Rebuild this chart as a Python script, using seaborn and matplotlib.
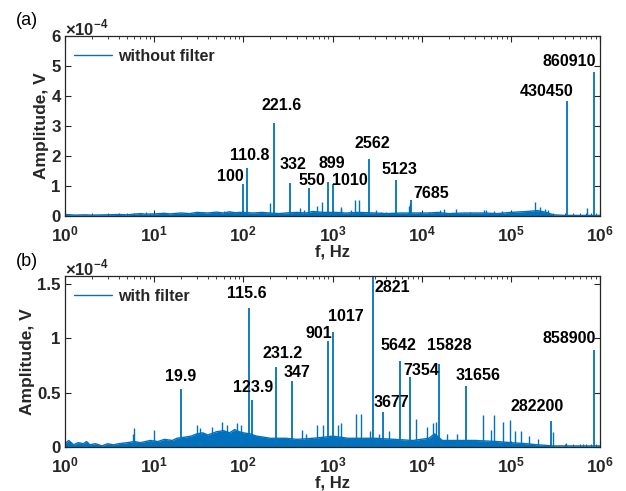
import numpy as np
import pandas as pd
import matplotlib
matplotlib.use("Agg")
import matplotlib.pyplot as plt
import matplotlib.ticker as mticker
import seaborn as sns

# ---------------- data (amplitudes in units of 1e-4 V) ----------------
# panel (a): without filter
a_peak_f = [100, 110.8, 221.6, 332, 550, 899, 1010, 2562, 5123, 7685, 430450, 860910]
a_peak_amp = [1.06, 1.61, 3.09, 1.09, 0.94, 1.14, 1.07, 1.90, 1.20, 0.55, 3.83, 4.81]
a_peak_lbl = ["100", "110.8", "221.6", "332", "550", "899", "1010", "2562", "5123", "7685", "430450", "860910"]
a_lbl_x = [71.4, 118.8, 269, 357, 584, 978, 1571, 2810, 5570, 12950, 250000, 447000]
a_lbl_y = [1.31, 2.0, 3.7, 1.72, 1.18, 1.76, 1.18, 2.42, 1.56, 0.76, 4.14, 5.14]

a_floor_f = [1, 1.3, 1.7, 2, 3, 4, 5, 7, 8, 10, 13, 15, 20, 25, 30, 40, 50, 60, 70, 80, 95,
             130, 160, 250, 300, 400, 500, 600, 800, 1100, 1400, 2000, 3000, 4000, 6000, 9000,
             12000, 15000, 20000, 30000, 50000, 70000, 100000, 150000, 200000, 250000, 300000,
             400000, 500000, 700000, 1000000]
a_floor_amp = [0.05, 0.03, 0.04, 0.03, 0.04, 0.05, 0.04, 0.08, 0.06, 0.07, 0.09, 0.07, 0.10, 0.08,
               0.12, 0.10, 0.13, 0.10, 0.14, 0.11, 0.12, 0.10, 0.12, 0.08, 0.10, 0.12, 0.10, 0.15,
               0.12, 0.12, 0.10, 0.12, 0.10, 0.08, 0.10, 0.10, 0.10, 0.12, 0.08, 0.10, 0.10, 0.08,
               0.12, 0.15, 0.18, 0.12, 0.04, 0.02, 0.02, 0.02, 0.02]
a_spur_f = [8, 35, 45, 60, 200, 435, 480, 665, 760, 1235, 1260, 1600, 1775, 1995, 3090, 3500,
            4000, 7200, 7400, 9500, 12000, 16000, 18000, 24000, 35000, 50000, 53000, 65000,
            80000, 186000, 213000, 240000, 262000, 500000, 600000, 710000]
a_spur_amp = [0.12, 0.15, 0.15, 0.16, 0.45, 0.27, 0.20, 0.33, 0.47, 0.31, 0.25, 0.20, 0.53, 0.53,
              0.20, 0.15, 0.12, 0.35, 0.45, 0.12, 0.15, 0.20, 0.25, 0.22, 0.15, 0.20, 0.20, 0.18,
              0.18, 0.46, 0.30, 0.25, 0.20, 0.06, 0.05, 0.27]

# panel (b): with filter
b_peak_f = [19.9, 115.6, 123.9, 231.2, 347, 901, 1017, 2821, 3677, 5642, 7354, 15828, 31656, 282200, 858900]
b_peak_amp = [0.536, 1.278, 0.435, 0.738, 0.606, 0.977, 1.06, 2.0, 0.32, 0.79, 0.64, 0.76, 0.56, 0.24, 0.89]
b_peak_lbl = ["19.9", "115.6", "123.9", "231.2", "347", "901", "1017", "2821", "3677", "5642",
              "7354", "15828", "31656", "282200", "858900"]
b_lbl_x = [19.7, 109, 129, 278, 397, 709, 1423, 4710, 4570, 5520, 9910, 20500, 43000, 195000, 452000]
b_lbl_y = [0.649, 1.406, 0.548, 0.858, 0.68, 1.04, 1.195, 1.46, 0.41, 0.93, 0.70, 0.93, 0.655, 0.373, 1.0]

b_floor_f = [1, 1.1, 1.25, 1.4, 1.6, 1.75, 1.9, 2.2, 2.6, 3, 3.5, 4, 5, 6, 7, 8, 9, 11, 13, 16, 18,
             22, 26, 30, 35, 40, 50, 60, 70, 80, 90, 100, 120, 140, 170, 200, 300, 400, 600, 800,
             1000, 1500, 2000, 3000, 5000, 8000, 12000, 14000, 17000, 25000, 40000, 70000,
             100000, 150000, 200000, 300000, 500000, 800000, 1000000]
b_floor_amp = [0.03, 0.06, 0.02, 0.04, 0.03, 0.05, 0.02, 0.03, 0.01, 0.03, 0.02, 0.03, 0.04, 0.05,
               0.04, 0.05, 0.06, 0.05, 0.07, 0.06, 0.08, 0.09, 0.10, 0.12, 0.13, 0.11, 0.14, 0.15,
               0.13, 0.16, 0.14, 0.13, 0.12, 0.10, 0.09, 0.08, 0.08, 0.07, 0.08, 0.09, 0.10, 0.08,
               0.08, 0.08, 0.07, 0.06, 0.08, 0.12, 0.06, 0.06, 0.06, 0.05, 0.04, 0.03, 0.02, 0.01,
               0.01, 0.01, 0.01]
b_spur_f = [5.8, 6, 10, 30, 33, 45, 58, 65, 85, 95, 455, 500, 665, 790, 1150, 1260, 1830, 2070,
            2600, 3300, 4300, 8700, 11400, 13500, 14500, 19000, 25000, 49000, 60000, 64500,
            81000, 98000, 110000, 129000, 160000, 200000, 300000, 420000, 650000]
b_spur_amp = [0.12, 0.17, 0.16, 0.20, 0.17, 0.18, 0.23, 0.20, 0.22, 0.20, 0.16, 0.12, 0.20, 0.20,
              0.20, 0.22, 0.30, 0.30, 0.15, 0.12, 0.15, 0.26, 0.18, 0.22, 0.23, 0.12, 0.12, 0.29,
              0.16, 0.29, 0.23, 0.25, 0.15, 0.15, 0.10, 0.07, 0.14, 0.04, 0.03]

x_decades = [1, 10, 100, 1000, 10000, 100000, 1000000]

# ---------------- style ----------------
sns.set_theme(style="ticks")
plt.rcParams.update({
    "font.family": ["Liberation Sans", "DejaVu Sans"],
    "font.weight": "bold",
    "mathtext.fontset": "custom",
    "mathtext.rm": "Liberation Sans",
    "mathtext.bf": "Liberation Sans:bold",
    "axes.edgecolor": "#262626",
    "axes.linewidth": 0.9,
    "xtick.direction": "in",
    "ytick.direction": "in",
    "xtick.top": True,
    "ytick.right": True,
    "xtick.color": "#262626",
    "ytick.color": "#262626",
})

BLUE = "#0072BD"
W, H = 626, 491
fig = plt.figure(figsize=(W / 100, H / 100), dpi=100)
ax_a = fig.add_axes([65 / W, 1 - 216 / H, 535 / W, 180 / H])
ax_b = fig.add_axes([65 / W, 1 - 447 / H, 535 / W, 171 / H])


def panel(ax, floor_f, floor_amp, spur_f, spur_amp, peak_f, peak_amp, lbl, lx, ly,
          legend_label, ymax, yticks, yticklabels, tag):
    df = pd.DataFrame({"f": floor_f, "amp": floor_amp})
    ax.fill_between(df["f"], 0, df["amp"], color=BLUE, lw=0)
    sns.lineplot(data=df, x="f", y="amp", ax=ax, color=BLUE, lw=1.0,
                 estimator=None, sort=True, label=legend_label)
    ax.vlines(spur_f, 0, spur_amp, color=BLUE, lw=1.0)
    ax.vlines(peak_f, 0, peak_amp, color=BLUE, lw=1.3)
    for s, x, y in zip(lbl, lx, ly):
        ax.text(x, y, s, ha="center", va="center", fontsize=11.5, fontweight="bold",
                color="black")
    ax.set_xscale("log")
    ax.set_xlim(1, 1e6)
    ax.set_ylim(0, ymax)
    ax.xaxis.set_major_locator(mticker.FixedLocator(x_decades))
    ax.xaxis.set_minor_locator(mticker.LogLocator(base=10, subs=np.arange(2, 10), numticks=100))
    ax.xaxis.set_minor_formatter(mticker.NullFormatter())
    ax.xaxis.set_major_formatter(mticker.FixedFormatter(
        [r"$\mathbf{10^{%d}}$" % i for i in range(len(x_decades))]))
    ax.set_yticks(yticks)
    ax.set_yticklabels(yticklabels)
    ax.tick_params(axis="both", which="major", length=4.5, width=0.8, labelsize=12.5, pad=3)
    ax.tick_params(axis="y", which="major", labelsize=12.2)
    ax.tick_params(axis="x", which="minor", length=2.5, width=0.6)
    ax.tick_params(axis="x", which="major", pad=6)
    for t in ax.get_yticklabels():
        t.set_fontweight("bold")
        t.set_verticalalignment("center_baseline")
    ax.set_xlabel("f, Hz", fontsize=12, fontweight="bold", labelpad=0)
    ax.set_ylabel("Amplitude, V", fontsize=12.5, fontweight="bold", labelpad=2)
    ax.text(0.0, 1.045, r"$\times10^{-4}$", transform=ax.transAxes, fontsize=12,
            fontweight="normal", ha="left", va="center", color="#262626")
    ax.text(-0.072, 1.085, tag, transform=ax.transAxes, fontsize=13,
            fontweight="normal", ha="center", va="center", color="black")
    leg = ax.legend(loc="upper left", frameon=False, fontsize=11.5, handlelength=2.4,
                    handletextpad=0.35, borderaxespad=0, borderpad=0,
                    bbox_to_anchor=(9 / 535, 1 - 13 / ax.bbox.height))
    for t in leg.get_texts():
        t.set_fontweight("bold")


panel(ax_a, a_floor_f, a_floor_amp, a_spur_f, a_spur_amp, a_peak_f, a_peak_amp,
      a_peak_lbl, a_lbl_x, a_lbl_y, "without filter", 6,
      [0, 1, 2, 3, 4, 5, 6], ["0", "1", "2", "3", "4", "5", "6"], "(a)")
panel(ax_b, b_floor_f, b_floor_amp, b_spur_f, b_spur_amp, b_peak_f, b_peak_amp,
      b_peak_lbl, b_lbl_x, b_lbl_y, "with filter", 1.57,
      [0, 0.5, 1, 1.5], ["0", "0.5", "1", "1.5"], "(b)")

fig.savefig("out.png", dpi=100)
